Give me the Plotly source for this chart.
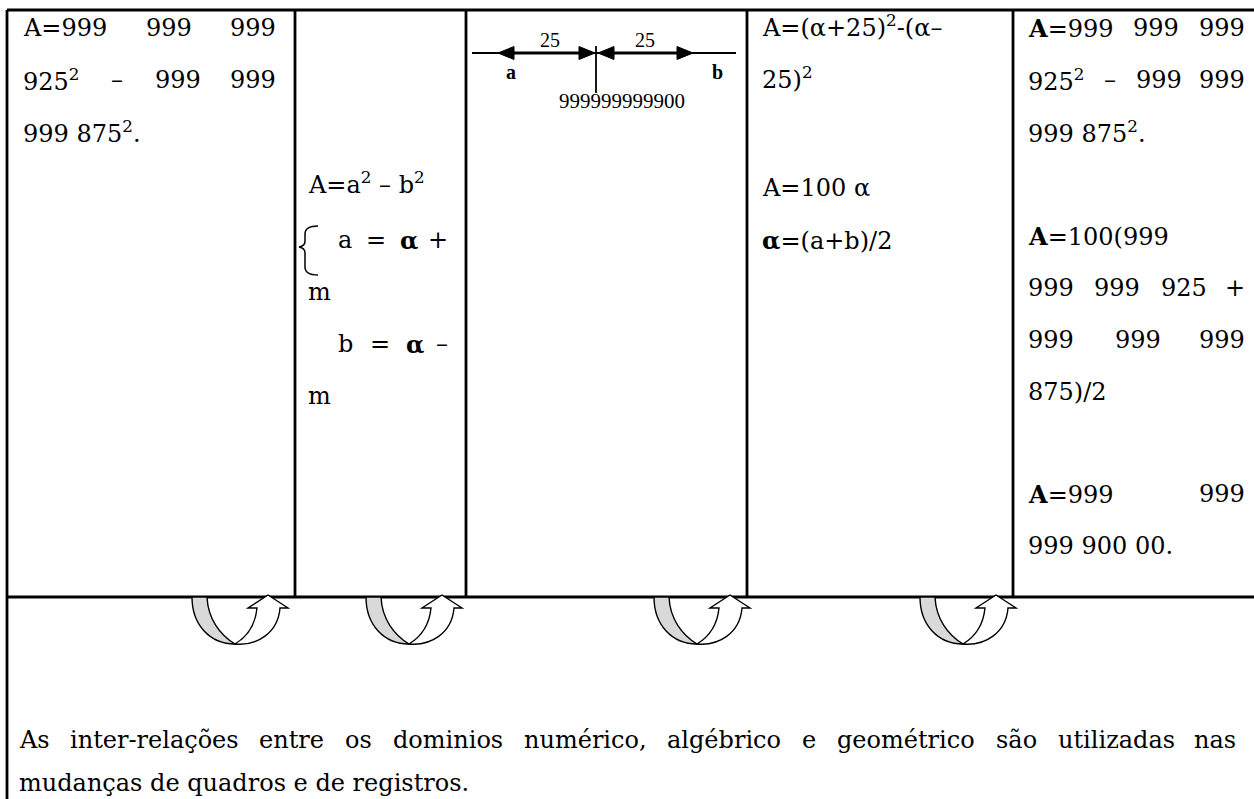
import re
import plotly.graph_objects as go

W, H = 1254, 799
FONT = "DejaVu Serif"
SIZE = 24

# textes du tableau
col1_lines = ["A=999 999 999", "925<sup>2</sup> – 999 999", "999 875<sup>2</sup>."]
col2_lines = ["A=a<sup>2</sup> – b<sup>2</sup>", "a = <b>α</b> +", "m", "b = <b>α</b> –", "m"]
col4_lines = ["A=(α+25)<sup>2</sup>-(α–", "25)<sup>2</sup>", "A=100 α", "<b>α</b>=(a+b)/2"]
col5_lines = ["<b>A</b>=999 999 999", "925<sup>2</sup> – 999 999", "999 875<sup>2</sup>.",
              "<b>A</b>=100(999", "999 999 925 +", "999 999 999", "875)/2",
              "<b>A</b>=999 999", "999 900 00."]
seg_labels = ["25", "25"]
end_labels = ["a", "b"]
centre_label = "999999999900"
note_lines = ["As inter-relações entre os dominios numérico, algébrico e geométrico são utilizadas nas",
              "mudanças de quadros e de registros."]

# largeurs approx. DejaVu Serif (1/1000 em)
LARG = {" ": 318, ",": 318, ".": 318, "-": 338, "–": 500, "=": 838, "+": 838, "(": 390, ")": 390,
        "/": 337, "A": 722, "a": 596, "b": 640, "c": 560, "d": 640, "e": 592, "f": 370, "g": 640,
        "h": 644, "i": 320, "j": 310, "l": 320, "m": 948, "n": 644, "o": 602, "p": 640, "q": 640,
        "r": 478, "s": 513, "t": 402, "u": 644, "z": 525, "ç": 560, "õ": 602, "é": 592, "ã": 596,
        "α": 650}


def largeur(txt, size):
    total = 0
    ech = 1.0
    for part in re.split(r"(<[^>]+>)", txt):
        if part == "<sup>":
            ech = 0.7
            continue
        if part == "</sup>":
            ech = 1.0
            continue
        if part.startswith("<"):
            continue
        for ch in part:
            total += LARG.get(ch, 636) * ech
    return total * size / 1000


fig = go.Figure()


def texte(x, y, txt, size=SIZE, fam=FONT, anchor="left"):
    fig.add_annotation(x=x, y=y, xref="x", yref="y", text=txt, showarrow=False,
                       xanchor=anchor, yanchor="middle", borderpad=0,
                       font=dict(family=fam, size=size, color="black"))


def ligne(txt, x0, y, x1=None):
    if x1 is None:
        texte(x0, y, txt)
        return
    mots = txt.split(" ")
    larg = [largeur(m, SIZE) for m in mots]
    gap = (x1 - x0 - sum(larg)) / (len(mots) - 1)
    x = x0
    for i, (m, w) in enumerate(zip(mots, larg)):
        if i == len(mots) - 1:
            texte(x1, y, m, anchor="right")
        else:
            texte(x, y, m)
        x += w + gap


def trait(x0, y0, x1, y1, w=2.8):
    fig.add_shape(type="line", x0=x0, y0=y0, x1=x1, y1=y1, xref="x", yref="y",
                  line=dict(color="black", width=w))


# cadre du tableau
trait(7, 10, W, 10)
trait(7, 10, 7, H)
for xc in [295, 466, 747, 1013]:
    trait(xc, 10, xc, 597)
trait(7, 597, W, 597)

# colonne 1
for txt, y, j in zip(col1_lines, [28, 80, 132], [True, True, False]):
    ligne(txt, 22, y, 277 if j else None)

# colonne 2
c2_x0 = [307, 337, 307, 337, 307]
c2_y = [183, 240, 292, 344, 396]
c2_j = [False, True, False, True, False]
for txt, x0, y, j in zip(col2_lines, c2_x0, c2_y, c2_j):
    ligne(txt, x0, y, 449 if j else None)
# accolade
fig.add_shape(type="path", xref="x", yref="y",
              path="M318,226 Q305,226 305,234 L305,241 Q305,246 299,247 Q305,248 305,253 "
                   "L305,267 Q305,275 318,275",
              line=dict(color="black", width=1.5))

# colonne 3 : schéma
trait(472, 53, 736, 53, 1.8)
trait(505, 53, 588, 53, 3.2)
trait(605, 53, 686, 53, 3.2)
trait(596, 46, 596, 93, 1.8)
for tip, d in [(498, 1), (595, -1), (598, 1), (693, -1)]:
    fig.add_shape(type="path", xref="x", yref="y", fillcolor="black",
                  path=f"M{tip},53 L{tip + 16 * d},46.5 L{tip + 16 * d},59.5 Z",
                  line=dict(color="black", width=1))
for lab, x in zip(seg_labels, [550, 645]):
    texte(x, 40, lab, size=20, fam="Liberation Serif", anchor="center")
for lab, x in zip(end_labels, [511, 717]):
    texte(x, 72, f"<b>{lab}</b>", size=20, fam="Liberation Serif", anchor="center")
texte(622, 101, centre_label, size=21, fam="Liberation Serif", anchor="center")

# colonne 4
for txt, y in zip(col4_lines, [26, 78, 188, 240]):
    ligne(txt, 761, y)

# colonne 5
c5_y = [28, 80, 132, 236, 288, 340, 392, 494, 546]
c5_j = [True, True, False, False, True, True, False, True, False]
for txt, y, j in zip(col5_lines, c5_y, c5_j):
    ligne(txt, 1027, y, 1246 if j else None)


# flèches courbes
def fleche(x0, y0=597):
    gris = (f"M{x0},{y0} L{x0 + 15},{y0} C{x0 + 16},{y0 + 22} {x0 + 28},{y0 + 38} {x0 + 43},{y0 + 47} "
            f"C{x0 + 18},{y0 + 47} {x0},{y0 + 28} {x0},{y0} Z")
    blanc = (f"M{x0 + 43},{y0 + 47} C{x0 + 65},{y0 + 49} {x0 + 86},{y0 + 36} {x0 + 88},{y0 + 11} "
             f"L{x0 + 96},{y0 + 11} L{x0 + 76},{y0 - 2} L{x0 + 56},{y0 + 11} L{x0 + 65},{y0 + 11} "
             f"C{x0 + 63},{y0 + 31} {x0 + 53},{y0 + 41} {x0 + 43},{y0 + 47} Z")
    fig.add_shape(type="path", xref="x", yref="y", path=gris, fillcolor="#d9d9d9",
                  line=dict(color="black", width=1.4))
    fig.add_shape(type="path", xref="x", yref="y", path=blanc, fillcolor="white",
                  line=dict(color="black", width=1.4))


for xa in [192, 366, 654, 920]:
    fleche(xa)

# note du bas
ligne(note_lines[0], 18, 740, 1237)
ligne(note_lines[1], 18, 783)

fig.update_layout(
    width=W, height=H,
    margin=dict(l=0, r=0, t=0, b=0),
    paper_bgcolor="white", plot_bgcolor="white",
    xaxis=dict(range=[0, W], visible=False, fixedrange=True),
    yaxis=dict(range=[H, 0], visible=False, fixedrange=True),
    showlegend=False,
)

fig.write_html("out.html", config={"displayModeBar": False},
               post_script="document.body.style.margin='0px';")
